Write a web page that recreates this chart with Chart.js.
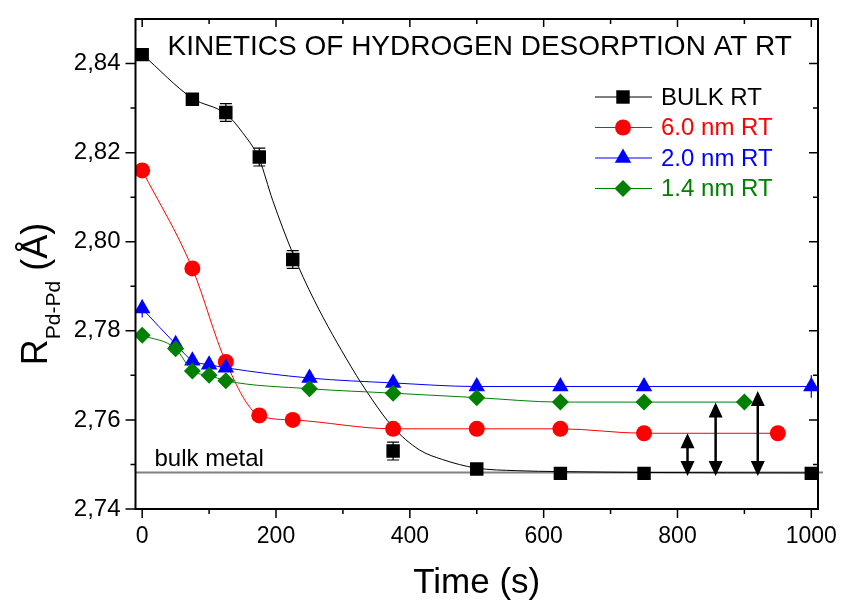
<!DOCTYPE html>
<html>
<head>
<meta charset="utf-8">
<title>Kinetics of hydrogen desorption at RT</title>
<script src="https://cdn.jsdelivr.net/npm/chart.js@4/dist/chart.umd.min.js"></script>
<style>
    html, body { margin: 0; padding: 0; background: #fff; }
    #wrap { position: relative; width: 844px; height: 600px; }
</style>
</head>
<body>
<div id="wrap"><canvas id="kineticsChart" width="844" height="600"></canvas></div>
<script>
// Data
const timeBulk = [0, 75, 125, 175, 225, 375, 500, 625, 750, 1000];
const rBulk    = [2.842, 2.832, 2.829, 2.819, 2.796, 2.753, 2.749, 2.748, 2.748, 2.748];
const errBulk  = [0, 0, 0.002, 0.002, 0.002, 0.002, 0, 0, 0, 0];

// fitted curve through the bulk points
const fitTimeBulk = [0, 75, 125, 150, 175, 195, 225, 257, 312, 344, 374, 414, 449, 499, 560, 625, 750, 1000];
const fitBulk     = [2.8421, 2.8322, 2.8287, 2.8245, 2.8185, 2.8093, 2.7974, 2.7869, 2.772, 2.7645, 2.7585, 2.7533, 2.7511, 2.7492, 2.7486, 2.7484, 2.7482, 2.7481];

const time6nm = [0, 75, 125, 175, 225, 375, 500, 625, 750, 950];
const r6nm    = [2.816, 2.794, 2.773, 2.761, 2.760, 2.758, 2.758, 2.758, 2.757, 2.757];

const time2nm = [0, 50, 75, 100, 125, 250, 375, 500, 625, 750, 1000];
const r2nm    = [2.785, 2.777, 2.7733, 2.7724, 2.7717, 2.7694, 2.7683, 2.7675, 2.7675, 2.7675, 2.7675];
const err2nm  = [0.002, 0, 0, 0, 0, 0, 0, 0, 0, 0, 0.0025];

const time14nm = [0, 50, 75, 100, 125, 250, 375, 500, 625, 750, 900];
const r14nm    = [2.779, 2.776, 2.771, 2.770, 2.7688, 2.767, 2.766, 2.765, 2.764, 2.764, 2.764];

const bulkLevel = 2.7482;

// double arrows (difference to bulk metal)
const arrowTime   = [815, 857, 920];
const arrowTop    = [2.757, 2.7639, 2.7665];
const arrowBottom = [2.7474, 2.7474, 2.7474];

const xTickValues  = [0, 200, 400, 600, 800, 1000];
const xMinorValues = [100, 300, 500, 700, 900];
const yTickValues  = [2.74, 2.76, 2.78, 2.80, 2.82, 2.84];
const yMinorValues = [2.75, 2.77, 2.79, 2.81, 2.83];

const legendLabels = ['BULK RT', '6.0 nm RT', '2.0 nm RT', '1.4 nm RT'];
const legendColors = ['#000000', '#ff0000', '#0000ff', '#008000'];
const legendShapes = ['rect', 'circle', 'triangle', 'rectRot'];

const FONT = '"Liberation Sans", Arial, Helvetica, sans-serif';

function toPoints(xs, ys) {
    return xs.map((x, i) => ({ x: x, y: ys[i] }));
}

// draw a marker like Chart.js does
function drawMarker(ctx, shape, x, y, r, color) {
    ctx.save();
    ctx.fillStyle = color;
    ctx.beginPath();
    if (shape === 'rect') {
        const s = Math.SQRT1_2 * r;
        ctx.rect(x - s, y - s, 2 * s, 2 * s);
    } else if (shape === 'circle') {
        ctx.arc(x, y, r, 0, Math.PI * 2);
    } else if (shape === 'triangle') {
        ctx.moveTo(x, y - r);
        ctx.lineTo(x + r * Math.cos(Math.PI / 6), y + r / 2);
        ctx.lineTo(x - r * Math.cos(Math.PI / 6), y + r / 2);
        ctx.closePath();
    } else {
        ctx.moveTo(x, y - r);
        ctx.lineTo(x + r, y);
        ctx.lineTo(x, y + r);
        ctx.lineTo(x - r, y);
        ctx.closePath();
    }
    ctx.fill();
    ctx.restore();
}

const markerRadius = { rect: 9.5, circle: 8, triangle: 9.5, rectRot: 8.5 };

const decorations = {
    id: 'decorations',

    beforeDatasetsDraw(chart) {
        const ctx = chart.ctx;
        const xs = chart.scales.x, ys = chart.scales.y;
        const area = chart.chartArea;

        // bulk metal reference line
        ctx.save();
        ctx.strokeStyle = '#808080';
        ctx.lineWidth = 2;
        const yb = ys.getPixelForValue(bulkLevel);
        ctx.beginPath();
        ctx.moveTo(area.left, yb);
        ctx.lineTo(area.right + 5, yb);
        ctx.stroke();

        ctx.fillStyle = '#000';
        ctx.font = '24px ' + FONT;
        ctx.textBaseline = 'alphabetic';
        ctx.fillText('bulk metal', area.left + 19, yb - 6);
        ctx.restore();

        // error bars
        const drawErr = (xsArr, ysArr, errs, color, caps) => {
            ctx.save();
            ctx.strokeStyle = color;
            ctx.lineWidth = 1.2;
            xsArr.forEach((t, i) => {
                if (!errs[i]) return;
                const px = xs.getPixelForValue(t);
                const p1 = ys.getPixelForValue(ysArr[i] + errs[i]);
                const p2 = ys.getPixelForValue(ysArr[i] - errs[i]);
                ctx.beginPath();
                ctx.moveTo(px, p1); ctx.lineTo(px, p2);
                if (caps) {
                    ctx.moveTo(px - 6, p1); ctx.lineTo(px + 6, p1);
                    ctx.moveTo(px - 6, p2); ctx.lineTo(px + 6, p2);
                }
                ctx.stroke();
            });
            ctx.restore();
        };
        drawErr(timeBulk, rBulk, errBulk, '#000000', true);
        drawErr(time2nm, r2nm, err2nm, '#0000ff', false);
    },

    afterDatasetsDraw(chart) {
        const ctx = chart.ctx;
        const xs = chart.scales.x, ys = chart.scales.y;
        const area = chart.chartArea;

        // double headed arrows
        ctx.save();
        ctx.strokeStyle = '#000';
        ctx.fillStyle = '#000';
        ctx.lineWidth = 2.5;
        arrowTime.forEach((t, i) => {
            const px = xs.getPixelForValue(t);
            const top = ys.getPixelForValue(arrowTop[i]);
            const bot = ys.getPixelForValue(arrowBottom[i]);
            ctx.beginPath();
            ctx.moveTo(px, top + 10);
            ctx.lineTo(px, bot - 10);
            ctx.stroke();
            ctx.beginPath();
            ctx.moveTo(px, top);
            ctx.lineTo(px + 7, top + 15);
            ctx.lineTo(px - 7, top + 15);
            ctx.closePath();
            ctx.moveTo(px, bot);
            ctx.lineTo(px + 7, bot - 15);
            ctx.lineTo(px - 7, bot - 15);
            ctx.closePath();
            ctx.fill();
        });
        ctx.restore();

        // frame
        ctx.save();
        ctx.strokeStyle = '#000';
        ctx.lineWidth = 2;
        ctx.strokeRect(area.left, area.top, area.right - area.left, area.bottom - area.top);

        // ticks: outward on left/bottom, inward on top/right
        ctx.lineWidth = 1.5;
        ctx.beginPath();
        xTickValues.forEach(v => {
            const px = xs.getPixelForValue(v);
            ctx.moveTo(px, area.bottom); ctx.lineTo(px, area.bottom + 9);
            ctx.moveTo(px, area.top); ctx.lineTo(px, area.top + 8);
        });
        xMinorValues.forEach(v => {
            const px = xs.getPixelForValue(v);
            ctx.moveTo(px, area.bottom); ctx.lineTo(px, area.bottom + 5);
            ctx.moveTo(px, area.top); ctx.lineTo(px, area.top + 5);
        });
        yTickValues.forEach(v => {
            const py = ys.getPixelForValue(v);
            ctx.moveTo(area.left, py); ctx.lineTo(area.left - 10, py);
            ctx.moveTo(area.right, py); ctx.lineTo(area.right - 9, py);
        });
        yMinorValues.forEach(v => {
            const py = ys.getPixelForValue(v);
            ctx.moveTo(area.left, py); ctx.lineTo(area.left - 5, py);
            ctx.moveTo(area.right, py); ctx.lineTo(area.right - 5, py);
        });
        ctx.stroke();
        ctx.restore();

        // title inside the plot
        ctx.save();
        ctx.fillStyle = '#000';
        ctx.font = '28px ' + FONT;
        ctx.textAlign = 'center';
        ctx.textBaseline = 'alphabetic';
        ctx.fillText('KINETICS OF HYDROGEN DESORPTION AT RT', (area.left + area.right) / 2 + 3, area.top + 36);
        ctx.restore();

        // legend
        ctx.save();
        ctx.font = '24px ' + FONT;
        ctx.textBaseline = 'middle';
        legendLabels.forEach((label, i) => {
            const cy = 97 + i * 30.5;
            ctx.strokeStyle = legendColors[i];
            ctx.lineWidth = 1;
            ctx.beginPath();
            ctx.moveTo(595, cy); ctx.lineTo(652, cy);
            ctx.stroke();
            drawMarker(ctx, legendShapes[i], 623, cy, markerRadius[legendShapes[i]], legendColors[i]);
            ctx.fillStyle = legendColors[i];
            ctx.fillText(label, 661, cy + 1);
        });
        ctx.restore();

        // axis titles
        ctx.save();
        ctx.fillStyle = '#000';
        ctx.font = '35px ' + FONT;
        ctx.textAlign = 'center';
        ctx.textBaseline = 'alphabetic';
        ctx.fillText('Time (s)', (area.left + area.right) / 2, 593);

        const big = '36px ' + FONT, small = '21px ' + FONT;
        ctx.font = big;
        const wR = ctx.measureText('R').width;
        const wTail = ctx.measureText(' (Å)').width;
        ctx.font = small;
        const wSub = ctx.measureText('Pd-Pd').width;
        const total = wR + wSub + wTail;
        ctx.translate(47, 294);
        ctx.rotate(-Math.PI / 2);
        let x0 = -total / 2;
        ctx.textAlign = 'left';
        ctx.font = big;
        ctx.fillText('R', x0, 0);
        ctx.font = small;
        ctx.fillText('Pd-Pd', x0 + wR, 13);
        ctx.font = big;
        ctx.fillText(' (Å)', x0 + wR + wSub, 0);
        ctx.restore();
    }
};

const ctx = document.getElementById('kineticsChart').getContext('2d');
const chart = new Chart(ctx, {
    type: 'scatter',
    data: {
        datasets: [
            {
                label: '1.4 nm RT',
                data: toPoints(time14nm, r14nm),
                showLine: true,
                borderColor: '#008000',
                backgroundColor: '#008000',
                borderWidth: 1,
                pointStyle: 'rectRot',
                pointRadius: markerRadius.rectRot,
                pointBorderWidth: 0,
                cubicInterpolationMode: 'monotone',
                order: 1
            },
            {
                label: '2.0 nm RT',
                data: toPoints(time2nm, r2nm),
                showLine: true,
                borderColor: '#0000ff',
                backgroundColor: '#0000ff',
                borderWidth: 1,
                pointStyle: 'triangle',
                pointRadius: markerRadius.triangle,
                pointBorderWidth: 0,
                cubicInterpolationMode: 'monotone',
                order: 2
            },
            {
                label: '6.0 nm RT',
                data: toPoints(time6nm, r6nm),
                showLine: true,
                borderColor: '#ff0000',
                backgroundColor: '#ff0000',
                borderWidth: 1,
                pointStyle: 'circle',
                pointRadius: markerRadius.circle,
                pointBorderWidth: 0,
                cubicInterpolationMode: 'monotone',
                order: 3
            },
            {
                label: 'BULK RT',
                data: toPoints(timeBulk, rBulk),
                showLine: false,
                borderColor: '#000000',
                backgroundColor: '#000000',
                pointStyle: 'rect',
                pointRadius: markerRadius.rect,
                pointBorderWidth: 0,
                order: 4
            },
            {
                label: 'BULK fit',
                data: toPoints(fitTimeBulk, fitBulk),
                showLine: true,
                borderColor: '#000000',
                borderWidth: 1,
                pointRadius: 0,
                cubicInterpolationMode: 'monotone',
                order: 5
            }
        ]
    },
    options: {
        responsive: false,
        animation: false,
        events: [],
        layout: { padding: { left: 0, top: 19, right: 26, bottom: 0 } },
        scales: {
            x: {
                type: 'linear',
                min: -10,
                max: 1010,
                grid: { display: false, drawTicks: false },
                border: { display: false },
                afterBuildTicks: scale => { scale.ticks = xTickValues.map(v => ({ value: v })); },
                afterFit: scale => {
                    scale.height = 91;
                    scale.paddingLeft = 0;
                    scale.paddingRight = 0;
                },
                ticks: {
                    color: '#000',
                    padding: 14,
                    maxRotation: 0,
                    font: { family: FONT, size: 23 },
                    callback: v => String(v)
                }
            },
            y: {
                type: 'linear',
                min: 2.74,
                max: 2.85,
                grid: { display: false, drawTicks: false },
                border: { display: false },
                afterBuildTicks: scale => { scale.ticks = yTickValues.map(v => ({ value: v })); },
                afterFit: scale => {
                    scale.width = 135.5;
                    scale.paddingTop = 0;
                    scale.paddingBottom = 0;
                },
                ticks: {
                    color: '#000',
                    padding: 15,
                    font: { family: FONT, size: 24 },
                    callback: v => v.toFixed(2).replace('.', ',')
                }
            }
        },
        plugins: {
            legend: { display: false },
            tooltip: { enabled: false }
        }
    },
    plugins: [decorations]
});
</script>
</body>
</html>
